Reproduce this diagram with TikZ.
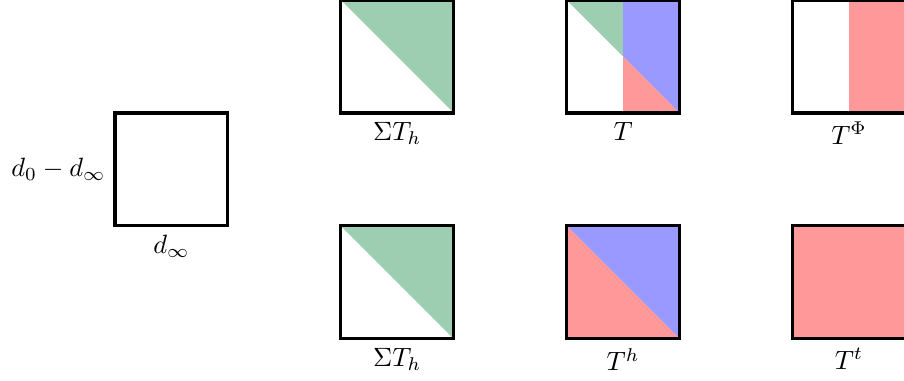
\documentclass[tikz,border=0pt]{standalone}
\usepackage{amsmath,amssymb}
\usepackage{xcolor}
\usetikzlibrary{positioning, backgrounds}
\definecolor{sumgreen}{RGB}{158,206,178}
\definecolor{tpink}{RGB}{255,153,153}
\definecolor{hblue}{RGB}{153,153,255}

\begin{document}
\begin{tikzpicture}[
  cell/.style={rectangle, draw=black, very thick, minimum size=15mm,
               inner sep=0pt, outer sep=0pt},
  lab/.style={inner sep=3.33pt}
]
\useasboundingbox (-1.527,-0.558) rectangle (10.48,4.5);

% --- left: the whole block ---
\node[cell] (d) at (0.75,2.25) {};
\node[lab, left=0pt of d] (dl) {$d_0 - d_\infty$};
\node[lab, below=0pt of d] (db) {$d_\infty$};

% --- top row ---
\node[cell] (a1) at (3.75,3.75) {};
\node[cell] (a2) at (6.75,3.75) {};
\node[cell] (a3) at (9.75,3.75) {};
\node[lab, below=0pt of a1] (la1) {$\Sigma T_h$};
\node[lab, below=0pt of a2] (la2) {$T$};
\node[lab, below=0pt of a3] (la3) {$T^{\Phi}$};

% --- bottom row ---
\node[cell] (b1) at (3.75,0.75) {};
\node[cell] (b2) at (6.75,0.75) {};
\node[cell] (b3) at (9.75,0.75) {};
\node[lab, below=0pt of b1] (lb1) {$\Sigma T_h$};
\node[lab, below=0pt of b2] (lb2) {$T^h$};
\node[lab, below=0pt of b3] (lb3) {$T^t$};

% --- fills ---
\begin{scope}[on background layer]
  \fill[sumgreen] (a1.north west) -- (a1.north east) -- (a1.south east) -- cycle;
  \fill[sumgreen] (a2.north west) -- (a2.north) -- (a2.center) -- cycle;
  \fill[hblue] (a2.north) -- (a2.north east) -- (a2.south east) -- (a2.center) -- cycle;
  \fill[tpink] (a2.center) -- (a2.south east) -- (a2.south) -- cycle;
  \fill[tpink] (a3.north) rectangle (a3.south east);
  \fill[sumgreen] (b1.north west) -- (b1.north east) -- (b1.south east) -- cycle;
  \fill[hblue] (b2.north west) -- (b2.north east) -- (b2.south east) -- cycle;
  \fill[tpink] (b2.north west) -- (b2.south east) -- (b2.south west) -- cycle;
  \fill[tpink] (b3.south west) rectangle (b3.north east);
\end{scope}
\end{tikzpicture}
\end{document}
